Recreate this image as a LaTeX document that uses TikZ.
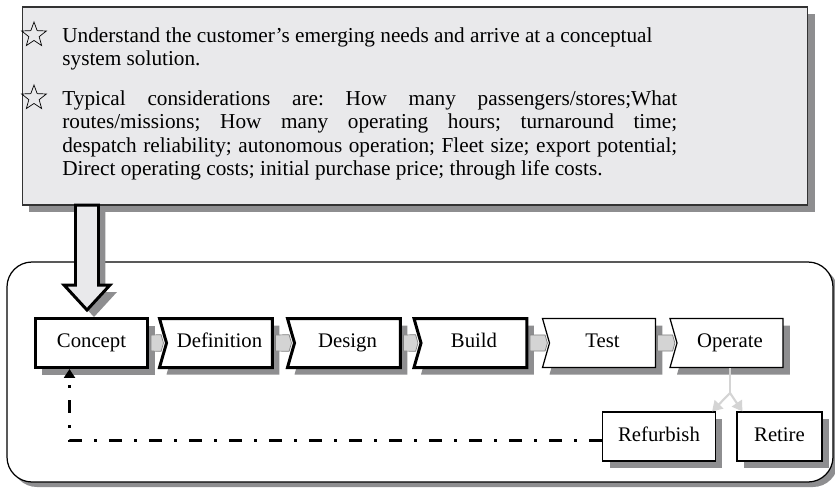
\documentclass[tikz,border=0pt]{standalone}
\usepackage{fontspec}
\setmainfont{Liberation Serif}
\usetikzlibrary{arrows.meta,calc,positioning,shapes.geometric,shapes.symbols,shadows}

\definecolor{panelgray}{HTML}{E9E9EB}
\definecolor{shadowgray}{HTML}{8E8E90}
\definecolor{linkgray}{HTML}{D4D4D4}

\tikzset{
  shade box/.style={drop shadow={shadow xshift=0.14cm,shadow yshift=-0.14cm,fill=shadowgray,opacity=1}},
  panel/.style={draw=black!80,fill=panelgray,line width=0.6pt,minimum width=15.72cm,minimum height=3.96cm,shade box},
  bullet star/.style={star,star points=5,star point ratio=2.4,draw,line width=0.4pt,inner sep=0pt,minimum size=0.52cm},
  brief text/.style={text width=12.3cm,align=justify,inner sep=0pt,font=\fontsize{12.1}{13.4}\selectfont\frenchspacing},
  stage/.style={draw,fill=white,line width=0.7pt,minimum width=2.26cm,minimum height=0.98cm,inner sep=0pt,text height=1.6ex,text depth=0.4ex,shade box,font=\fontsize{11.8}{13}\selectfont},
  heavy/.style={line width=1.7pt},
  notched/.style={shape=signal,signal to=nowhere,signal from=west,signal pointer angle=148},
  link/.style={draw=gray,fill=linkgray,line width=0.4pt},
  forkline/.style={draw=linkgray,line width=1.2pt},
  feedback/.style={line width=1.7pt,dash pattern=on 0.26cm off 0.24cm on 0.06cm off 0.24cm,-{Triangle[width=0.22cm,length=0.18cm]}}
}

\begin{document}
\begin{tikzpicture}[x=0.02cm,y=-0.02cm,>=Latex]
\useasboundingbox (0,0) rectangle (835,488);
% life cycle frame
\draw[rounded corners=0.5cm,fill=white,line width=0.7pt,drop shadow={shadow xshift=0.1cm,shadow yshift=-0.1cm,fill=shadowgray,opacity=1}] (7,262) rectangle (833,482);
% brief
\node[panel] (brief) at (415,106) {};
\node[bullet star] (s1) at (34,35) {};
\node[bullet star] (s2) at (34,98) {};
\node[brief text,anchor=base west] (need) at (62,42) {Understand the customer’s emerging needs and arrive at a conceptual\\system solution.};
\node[brief text,anchor=base west] (cons) at (62,105) {Typical considerations are: How many passengers/stores;What\linebreak routes/missions; How many operating hours; turnaround time;\linebreak despatch reliability; autonomous operation; Fleet size; export potential;\linebreak Direct operating costs; initial purchase price; through life costs.};
% block arrow into concept
\filldraw[fill=panelgray,line width=1.7pt,shade box] (75.5,205) -- (98.5,205) -- (98.5,285) -- (110,285) -- (87,310) -- (64,285) -- (75.5,285) -- cycle;
% stages
\node[stage,heavy] (con) at (91.5,343) {Concept};
\node[stage,heavy,notched] (def) at (219.5,343) {Definition};
\node[stage,heavy,notched] (des) at (347.5,343) {Design};
\node[stage,heavy,notched] (bld) at (474,343) {Build};
\node[stage,notched] (tst) at (602.5,343) {Test};
\node[stage,notched] (op) at (730,343) {Operate};
\node[stage] (ref) at (659,436.5) {Refurbish};
\node[stage,minimum width=1.7cm] (ret) at (779.5,436.5) {Retire};
\foreach \a/\b in {con/def,def/des,des/bld,bld/tst,tst/op}
  \filldraw[link] ([xshift=0.85pt,yshift=0.16cm]\a.east) -- ($(\b.north west)!0.68!(\b.west)+(-0.85pt,0)$) -- ([xshift=-0.85pt]\b.west) -- ($(\b.south west)!0.68!(\b.west)+(-0.85pt,0)$) -- ([xshift=0.85pt,yshift=-0.16cm]\a.east) -- cycle;
% end of life
\coordinate (split) at (730,393);
\draw[forkline] (op.south) -- (split);
\draw[forkline,-{Triangle[width=0.24cm,length=0.2cm]}] (split) -- ([xshift=-0.08cm]ref.north east);
\draw[forkline,-{Triangle[width=0.24cm,length=0.2cm]}] (split) -- ([xshift=0.12cm]ret.north west);
\draw[feedback] ([yshift=-0.07cm]ref.west) -| ([xshift=0.72cm]con.south west);
\end{tikzpicture}
\end{document}
